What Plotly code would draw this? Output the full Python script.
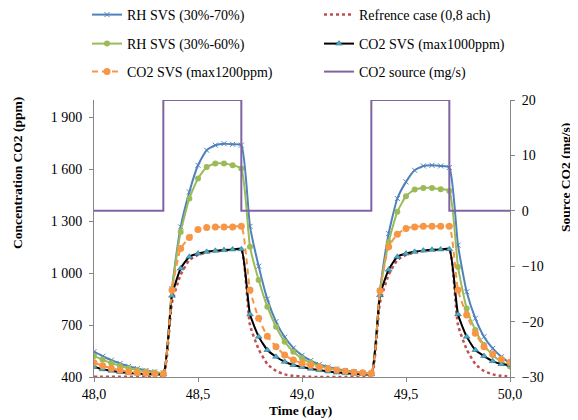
import plotly.graph_objects as go

hours = list(range(49))
days = [48 + h / 24 for h in hours]

rh70 = [546, 520, 497, 478, 462, 449, 438, 430, 423,
        910, 1267, 1469, 1623, 1710, 1739, 1748, 1744, 1739,
        1270, 1040, 850, 720, 630, 568, 525, 495, 473, 458, 446, 437, 430, 425, 421,
        900, 1229, 1431, 1527, 1594, 1619, 1623, 1619, 1610,
        1161, 892, 739, 633, 565, 517, 479]
rh60 = [522, 500, 480, 464, 451, 440, 432, 426, 421,
        905, 1238, 1431, 1546, 1613, 1633, 1633, 1623, 1604,
        1152, 960, 806, 690, 604, 546, 508, 482, 464, 450, 440, 432, 426, 422, 419,
        898, 1180, 1354, 1444, 1483, 1492, 1492, 1485, 1475,
        1036, 796, 671, 585, 527, 488, 460]
co2_1200 = [482, 465, 450, 440, 431, 425, 421, 419, 417,
            902, 1142, 1206, 1252, 1264, 1267, 1267, 1267, 1271,
            902, 739, 636, 575, 527, 498, 479, 468, 458, 448, 440, 433, 428, 424, 421,
            898, 1152, 1225, 1258, 1267, 1271, 1271, 1271, 1271,
            902, 758, 652, 575, 533, 502, 485]
co2_1000 = [458, 445, 436, 429, 424, 420, 418, 417, 416,
            870, 1027, 1094, 1113, 1123, 1129, 1133, 1137, 1138,
            762, 633, 556, 517, 488, 469, 458, 448, 440, 432, 426, 422, 419, 417, 416,
            873, 1020, 1094, 1113, 1123, 1130, 1135, 1137, 1138,
            762, 633, 556, 521, 492, 475, 469]
reference = [401, 401, 401, 401, 401, 401, 401, 401, 401,
             830, 990, 1075, 1105, 1120, 1128, 1132, 1135, 1137,
             700, 560, 475, 435, 415, 407, 403, 401, 400, 400, 400, 400, 400, 400, 400,
             830, 990, 1075, 1105, 1120, 1128, 1132, 1135, 1137,
             700, 560, 475, 435, 415, 407, 403]

src_x = [48.0, 48 + 8 / 24, 48 + 17 / 24, 49 + 8 / 24, 49 + 17 / 24, 50.0]
src_y = [0, 20, 0, 20, 0, 0]

FONT = "'Liberation Serif', 'Times New Roman', serif"
SH = "spline"
SM = 0.5

fig = go.Figure()
fig.add_trace(go.Scatter(x=days, y=rh70, name="RH SVS (30%-70%)", mode="lines+markers",
                         line=dict(color="#4f81bd", width=2, shape=SH, smoothing=SM),
                         marker=dict(symbol="x-thin", size=5, line=dict(color="#4f81bd", width=1)),
                         legend="legend"))
fig.add_trace(go.Scatter(x=days, y=reference, name="Refrence case (0,8 ach)", mode="lines",
                         line=dict(color="#c0504d", width=2.5, dash="dot", shape=SH, smoothing=SM),
                         legend="legend"))
fig.add_trace(go.Scatter(x=days, y=rh60, name="RH SVS (30%-60%)", mode="lines+markers",
                         line=dict(color="#9bbb59", width=2, shape=SH, smoothing=SM),
                         marker=dict(symbol="circle", size=6, color="#9bbb59"),
                         legend="legend2"))
fig.add_trace(go.Scatter(x=days, y=co2_1000, name="CO2 SVS (max1000ppm)", mode="lines+markers",
                         line=dict(color="#000000", width=2, shape=SH, smoothing=SM),
                         marker=dict(symbol="triangle-up", size=6, color="#4bacc6",
                                     line=dict(color="#1f5f70", width=0.5)),
                         legend="legend2"))
fig.add_trace(go.Scatter(x=days, y=co2_1200, name="CO2 SVS (max1200ppm)", mode="lines+markers",
                         line=dict(color="#f79646", width=2, dash="6px,4px", shape=SH, smoothing=SM),
                         marker=dict(symbol="circle", size=7, color="#f79646"),
                         legend="legend3"))
fig.add_trace(go.Scatter(x=src_x, y=src_y, name="CO2 source (mg/s)", mode="lines",
                         line=dict(color="#8064a2", width=2, shape="hv"),
                         yaxis="y2", legend="legend3"))

OFF = 8  # page body margin
W, H = 578 - OFF, 420 - OFF
PL, PT, PW, PH = 94 - OFF, 100 - OFF, 416, 277


def py(screen_y):
    return (PT + PH - (screen_y - OFF)) / PH


def pxx(screen_x):
    return ((screen_x - OFF) - PL) / PW


leg_common = dict(orientation="h", x=pxx(87), xanchor="left", yanchor="middle",
                  font=dict(family=FONT, size=14, color="#000"),
                  entrywidth=187, entrywidthmode="pixels", bgcolor="rgba(0,0,0,0)",
                  itemwidth=30, tracegroupgap=0)

TICKF = dict(family=FONT, size=14, color="#000")
TITLEF = dict(family=FONT, size=13.5, color="#000")

fig.update_layout(
    width=W, height=H,
    margin=dict(l=PL, r=W - PL - PW, t=PT, b=H - PT - PH, autoexpand=False),
    paper_bgcolor="white", plot_bgcolor="white",
    separators=", ",
    font=dict(family=FONT, size=14, color="#000"),
    showlegend=True,
    legend=dict(**leg_common, y=py(15)),
    legend2=dict(**leg_common, y=py(44)),
    legend3=dict(**leg_common, y=py(72)),
    xaxis=dict(range=[48, 50], tick0=48, dtick=0.5, tickformat=".1f",
               showline=True, linecolor="#868686", linewidth=1,
               ticks="outside", ticklen=4, tickcolor="#868686",
               showgrid=False, zeroline=False, tickfont=TICKF),
    yaxis=dict(range=[400, 2000], tick0=400, dtick=300, tickformat=",d",
               showline=True, linecolor="#868686", linewidth=1,
               ticks="outside", ticklen=4, tickcolor="#868686", ticklabelstandoff=4,
               showgrid=False, zeroline=False, tickfont=TICKF),
    yaxis2=dict(range=[-30, 20], tick0=-30, dtick=10, overlaying="y", side="right",
                showline=True, linecolor="#868686", linewidth=1,
                ticks="outside", ticklen=4, tickcolor="#868686", ticklabelstandoff=4,
                showgrid=False, zeroline=False, tickfont=TICKF),
    annotations=[
        dict(text="<b>Concentration CO2 (ppm)</b>", xref="paper", yref="paper",
             x=pxx(17), y=py(173), xanchor="center", yanchor="middle",
             textangle=-90, showarrow=False, font=TITLEF),
        dict(text="<b>Source CO2 (mg/s)</b>", xref="paper", yref="paper",
             x=pxx(565), y=py(178), xanchor="center", yanchor="middle",
             textangle=-90, showarrow=False, font=TITLEF),
        dict(text="<b>Time (day)</b>", xref="paper", yref="paper",
             x=pxx(300), y=py(410), xanchor="center", yanchor="middle",
             showarrow=False, font=TITLEF),
    ],
)

fig.write_html("out.html")
